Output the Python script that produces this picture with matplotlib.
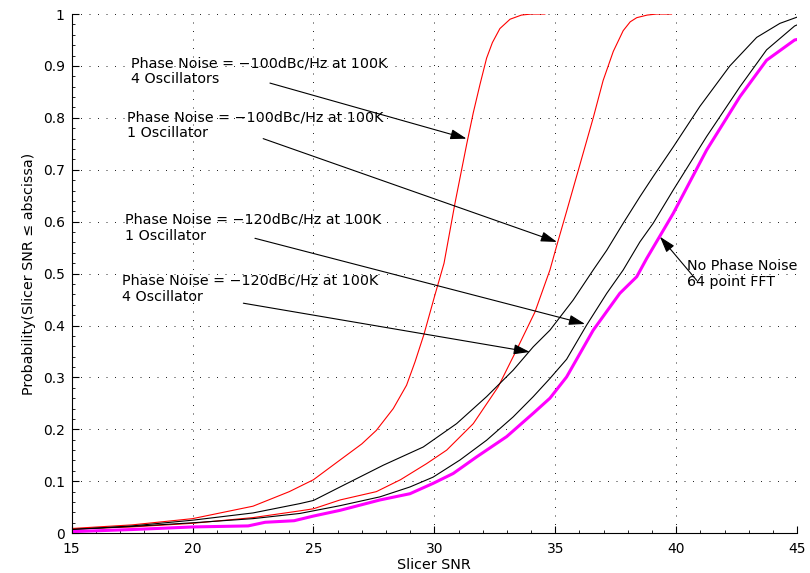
import matplotlib
matplotlib.use("Agg")
import matplotlib.pyplot as plt
from matplotlib.ticker import MultipleLocator

plt.rcParams['font.family'] = ['DejaVu Sans']

# Empirical CDFs of slicer SNR
pn100_4osc_x = [15, 17.5, 20, 22.5, 24, 25, 26.1, 27.0, 27.6, 28.3, 28.85, 29.2, 29.57, 30.0,
                30.4, 30.85, 31.34, 31.61, 31.89, 32.16, 32.4, 32.71, 33.13, 33.6, 34.0, 34.57]
pn100_4osc_y = [0.009, 0.016, 0.028, 0.052, 0.08, 0.103, 0.141, 0.172, 0.198, 0.24, 0.285, 0.33, 0.383, 0.455,
                0.52, 0.635, 0.75, 0.81, 0.865, 0.915, 0.945, 0.972, 0.99, 0.998, 1.0, 1.0]

pn100_1osc_x = [15, 17.5, 20, 22.5, 24.44, 25, 26.1, 27.6, 28.6, 29.68, 30.51, 31.61, 32.64,
                33.4, 34.16, 34.78, 35.08, 35.47, 36.02, 36.57, 36.98, 37.4, 37.81, 38.1, 38.37,
                38.8, 39.19, 39.81]
pn100_1osc_y = [0.008, 0.012, 0.019, 0.030, 0.043, 0.047, 0.064, 0.08, 0.103, 0.134, 0.160, 0.211, 0.282,
                0.353, 0.426, 0.507, 0.557, 0.62, 0.71, 0.8, 0.872, 0.928, 0.968, 0.985, 0.993,
                0.998, 1.0, 1.0]

pn120_4osc_x = [15, 17.5, 20, 22.5, 24.44, 25, 26.1, 27.89, 29.54, 30.92, 32.16, 33.26, 34.09,
                34.78, 35.74, 36.57, 37.13, 37.81, 38.5, 39.05, 39.88, 40.98, 42.22, 43.33,
                44.29, 45]
pn120_4osc_y = [0.007, 0.014, 0.025, 0.039, 0.057, 0.063, 0.089, 0.131, 0.166, 0.211, 0.263, 0.314, 0.359,
                0.391, 0.449, 0.507, 0.545, 0.597, 0.648, 0.687, 0.744, 0.822, 0.9, 0.955,
                0.982, 0.994]

pn120_1osc_x = [15, 17.5, 20, 22.5, 24.44, 26.1, 27.75, 28.99, 29.95, 31.06, 32.16, 33.26, 34.09,
                34.78, 35.47, 36.3, 37.13, 37.81, 38.5, 39.05, 39.88, 41.26, 42.64, 43.74,
                44.9, 45]
pn120_1osc_y = [0.007, 0.013, 0.020, 0.028, 0.038, 0.053, 0.070, 0.089, 0.108, 0.141, 0.179, 0.224, 0.263,
                0.298, 0.335, 0.401, 0.462, 0.507, 0.561, 0.597, 0.661, 0.764, 0.86, 0.931,
                0.977, 0.979]

no_pn_x = [15, 17.5, 20, 22.3, 23.0, 24.2, 25, 26.1, 27.75, 28.99, 29.95, 30.78, 31.75, 32.99,
           34.09, 34.78, 35.47, 36.57, 37.67, 38.37, 38.78, 39.88, 41.26, 42.64, 43.74,
           44.9, 45]
no_pn_y = [0.003, 0.007, 0.012, 0.014, 0.021, 0.024, 0.033, 0.044, 0.064, 0.076, 0.096, 0.115, 0.147, 0.186,
           0.231, 0.26, 0.301, 0.391, 0.462, 0.494, 0.529, 0.616, 0.738, 0.841, 0.911,
           0.95, 0.951]

x_ticks = [15, 20, 25, 30, 35, 40, 45]
y_ticks = [0, 0.1, 0.2, 0.3, 0.4, 0.5, 0.6, 0.7, 0.8, 0.9, 1]
y_tick_labels = ['0', '0.1', '0.2', '0.3', '0.4', '0.5', '0.6', '0.7', '0.8', '0.9', '1']

# (text, text anchor, arrow start, arrow tip)
notes = [
    ("Phase Noise = \u2212100dBc/Hz at 100K\n4 Oscillators", (17.44, 0.8665), (23.2, 0.867), (31.33, 0.760)),
    ("Phase Noise = \u2212100dBc/Hz at 100K\n1 Oscillator", (17.27, 0.7624), (22.92, 0.760), (35.07, 0.561)),
    ("Phase Noise = \u2212120dBc/Hz at 100K\n1 Oscillator", (17.20, 0.5645), (22.58, 0.568), (36.23, 0.403)),
    ("Phase Noise = \u2212120dBc/Hz at 100K\n4 Oscillator", (17.07, 0.447), (22.10, 0.443), (33.95, 0.349)),
    ("No Phase Noise\n64 point FFT", (40.43, 0.4765), (40.85, 0.487), (39.33, 0.571)),
]

fig = plt.figure(figsize=(8.1, 5.73), dpi=100)
ax = fig.add_axes([0.0885, 0.0695, 0.8955, 0.906])

ax.plot(pn100_4osc_x, pn100_4osc_y, color='#ff0000', lw=0.8)
ax.plot(pn100_1osc_x, pn100_1osc_y, color='#ff0000', lw=0.8)
ax.plot(pn120_4osc_x, pn120_4osc_y, color='black', lw=0.8)
ax.plot(pn120_1osc_x, pn120_1osc_y, color='black', lw=0.8)
ax.plot(no_pn_x, no_pn_y, color='#ff00ff', lw=2.2)

ax.set_xlim(15, 45)
ax.set_ylim(0, 1)
ax.set_xticks(x_ticks)
ax.set_xticklabels([str(t) for t in x_ticks])
ax.set_yticks(y_ticks)
ax.set_yticklabels(y_tick_labels)
ax.xaxis.set_minor_locator(MultipleLocator(1))
ax.yaxis.set_minor_locator(MultipleLocator(0.02))
ax.tick_params(which='major', direction='in', length=5, width=0.8, labelsize=10, colors='black')
ax.tick_params(which='minor', direction='in', length=2.5, width=0.6)
ax.tick_params(axis='y', which='major', pad=5)
ax.tick_params(axis='x', which='major', pad=6)

ax.grid(True, which='major', color='black', lw=0.6, linestyle=(0, (1.2, 9)))
for side in ('top', 'right'):
    ax.spines[side].set_visible(False)
for side in ('left', 'bottom'):
    ax.spines[side].set_linewidth(0.8)

ax.set_xlabel('Slicer SNR', fontsize=10.3, labelpad=2)
ax.set_ylabel('Probability(Slicer SNR \u2264 abscissa)', fontsize=10.3, labelpad=5)

for text, pos, start, tip in notes:
    ax.text(pos[0], pos[1], text, fontsize=10.3, ha='left', va='baseline', linespacing=1.2)
    ax.annotate('', xy=tip, xytext=start,
                arrowprops=dict(arrowstyle='-|>,head_length=0.7,head_width=0.22',
                                color='black', lw=0.8, mutation_scale=14,
                                shrinkA=0, shrinkB=0))

fig.savefig('out.png', dpi=100)
